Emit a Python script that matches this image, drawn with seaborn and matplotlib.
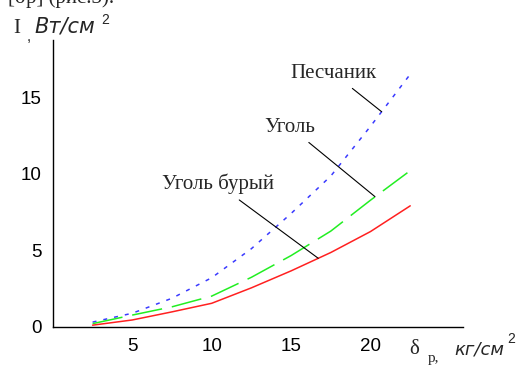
import seaborn as sns
import matplotlib.pyplot as plt

# stress values along the x axis (kg/cm^2)
stress = [2.5, 5, 7.5, 10, 12.5, 15, 17.5, 20, 22.5]

# intensity I (W/cm^2) for each rock
sandstone = [0.3, 0.88, 1.86, 3.2, 5.1, 7.4, 9.85, 13.1, 16.5]
coal = [0.2, 0.76, 1.3, 2.0, 3.23, 4.65, 6.25, 8.27, 10.2]
brown_coal = [0.1, 0.44, 0.97, 1.53, 2.54, 3.65, 4.85, 6.22, 7.9]

x_ticks = [5, 10, 15, 20]
y_ticks = [0, 5, 10, 15]

sns.set_style("white")
plt.rcParams['font.family'] = ['Liberation Sans', 'DejaVu Sans']

fig = plt.figure(figsize=(5.2, 3.67), dpi=100)
ax = fig.add_axes([0.1017, 0.1098, 0.788, 0.7817])

sns.lineplot(x=stress, y=sandstone, color="#3a3aff", lw=1.1,
             linestyle=(0, (2.6, 4.6)), ax=ax)
sns.lineplot(x=stress, y=coal, color="#22ee22", lw=1.1,
             linestyle=(0, (20, 6.5)), ax=ax)
sns.lineplot(x=stress, y=brown_coal, color="#ff2020", lw=1.1, ax=ax)

ax.set_xlim(0, 25.8)
ax.set_ylim(0, 18.75)
ax.set_xticks(x_ticks)
ax.set_yticks(y_ticks)
ax.set_xlabel("")
ax.set_ylabel("")
sns.despine(ax=ax)
for sp in ["left", "bottom"]:
    ax.spines[sp].set_color("black")
    ax.spines[sp].set_linewidth(1.0)
ax.tick_params(axis="x", direction="in", length=10.8, width=1, pad=8,
               labelsize=13.5, colors="black")
ax.tick_params(axis="y", direction="in", length=9.4, width=1, pad=8,
               labelsize=13.5, colors="black")

# labels with leader lines
serif = ['Liberation Serif', 'DejaVu Serif']
arrow = dict(arrowstyle="-", color="black", lw=0.8, shrinkA=3, shrinkB=0)
ax.annotate("Песчаник", xy=(20.7, 14.05), xytext=(17.64, 16.58),
            ha="center", va="center", fontsize=15, family=serif,
            arrowprops=arrow)
ax.annotate("Уголь", xy=(20.28, 8.5), xytext=(14.93, 13.05),
            ha="center", va="center", fontsize=15, family=serif,
            arrowprops=arrow)
ax.annotate("Уголь бурый", xy=(16.71, 4.47), xytext=(10.37, 9.33),
            ha="center", va="center", fontsize=15, family=serif,
            arrowprops=arrow)


def fx(px):
    return px / 520


def fy(py):
    return 1 - py / 367


# axis titles, placed like the original
fig.text(fx(13), fy(33), "I", fontsize=15, family=serif, va="baseline")
fig.text(fx(27), fy(41), ",", fontsize=11, va="baseline")
fig.text(fx(34), fy(33), "Вт/см", fontsize=15, style="italic",
         family="DejaVu Sans", va="baseline")
fig.text(fx(101), fy(24), "2", fontsize=10, va="baseline")

fig.text(fx(409), fy(354), "δ", fontsize=15, family=serif, va="baseline")
fig.text(fx(428), fy(362), "р,", fontsize=11, family=serif, va="baseline")
fig.text(fx(454), fy(355), "кг/см", fontsize=13, style="italic",
         family="DejaVu Sans", va="baseline")
fig.text(fx(507), fy(343), "2", fontsize=10, va="baseline")

# line of body text cut off at the top edge
fig.text(fx(8), fy(3), "[σр] (рис.3).", fontsize=15, family=serif, va="baseline")

fig.savefig("out.png", dpi=100)
